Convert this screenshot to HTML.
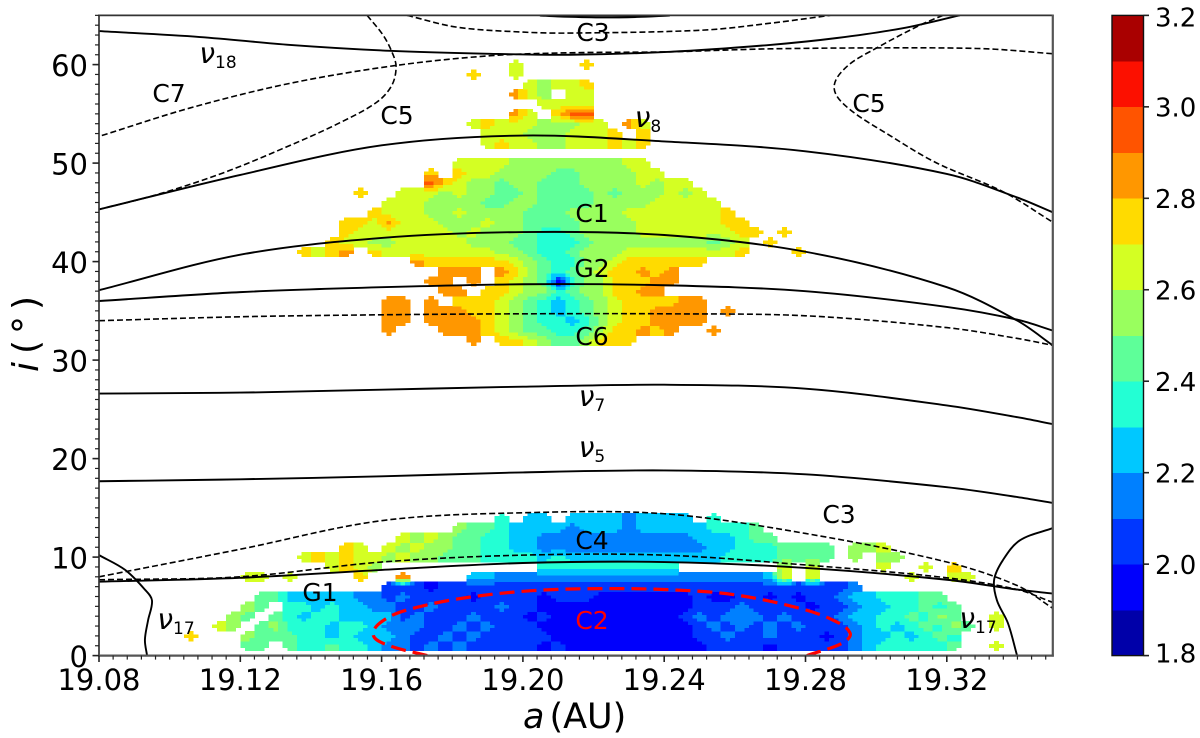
<!DOCTYPE html>
<html>
<head>
<meta charset="utf-8">
<title>Resonance map</title>
<style>
html,body{margin:0;padding:0;background:#fff;}
svg{display:block;font-family:"DejaVu Sans","Liberation Sans",sans-serif;}
.tick{font-size:29px;fill:#000;}
.lab{font-size:25px;fill:#000;text-anchor:middle;}
.nu{font-size:28px;fill:#000;font-style:italic;text-anchor:middle;}
.nu tspan{font-size:17px;font-style:normal;}
.cbt{font-size:26px;fill:#000;}
</style>
</head>
<body>
<svg id="chart" xmlns="http://www.w3.org/2000/svg" width="1200" height="738" viewBox="0 0 1200 738">
  <rect x="0" y="0" width="1200" height="738" fill="#fff"/>
  <defs><clipPath id="plotClip"><rect x="99" y="15.4" width="953.8" height="640.2"/></clipPath></defs>
  <g id="heat" clip-path="url(#plotClip)" shape-rendering="crispEdges"></g>
  <g id="curves" clip-path="url(#plotClip)"></g>
  <g id="axes"></g>
  <g id="labels">
    <text class="lab" x="593" y="41">C3</text>
    <text class="nu" x="218" y="63">ν<tspan dy="5">18</tspan></text>
    <text class="lab" x="169" y="102">C7</text>
    <text class="lab" x="397" y="124">C5</text>
    <text class="lab" x="869" y="112">C5</text>
    <text class="nu" x="648" y="127">ν<tspan dy="5">8</tspan></text>
    <text class="lab" x="592" y="222">C1</text>
    <text class="lab" x="592" y="277">G2</text>
    <text class="lab" x="592" y="345">C6</text>
    <text class="nu" x="592" y="406">ν<tspan dy="5">7</tspan></text>
    <text class="nu" x="592" y="457">ν<tspan dy="5">5</tspan></text>
    <text class="lab" x="839" y="523">C3</text>
    <text class="lab" x="592" y="549">C4</text>
    <text class="lab" x="320" y="601">G1</text>
    <text class="lab" x="592" y="629" style="fill:#f00">C2</text>
    <text class="nu" x="176" y="629">ν<tspan dy="5">17</tspan></text>
    <text class="nu" x="978" y="628">ν<tspan dy="5">17</tspan></text>
  </g>
  <text x="523" y="728" font-size="35"><tspan font-style="italic">a</tspan><tspan dx="5">(AU)</tspan></text>
  <text transform="translate(38,372) rotate(-90)" font-size="36"><tspan font-style="italic">i</tspan><tspan dx="8">(</tspan><tspan dx="6">°</tspan><tspan dx="6">)</tspan></text>
</svg>
<script>
// ---- data: heatmap bands (0 = no data) ----
const heatStartA = 19.10;
const heatStepA = 0.004;
const heatStartI = 0.5;
const heatStepI = 1;
const heatRows = [
/*r0*/[0,0,0,0,0, 2.4,2.4,0,2.4,2.3, 2.3,2.4,2.3,2.3,2.2, 2.1,2.1,2.0,2.1,2.0, 2.1,2.0,2.0,2.0,2.0, 2.0,1.9,2.0,1.9,1.9, 1.9,1.9,1.9,1.9,1.9, 1.9,1.9,1.9,2.0,2.0, 2.0,2.0,1.9,2.0,2.0, 2.0,2.0,2.0,2.1,2.2, 2.3,2.3,2.3,2.3,2.3, 2.4,0,0,2.6],
/*r1*/[0,2.7,0,0,0, 2.5,2.4,2.4,2.4,2.3, 2.3,2.2,2.3,2.2,2.2, 2.2,2.1,2.0,2.0,2.1, 2.0,2.1,2.0,2.0,2.0, 2.0,2.0,1.9,1.9,1.9, 1.9,1.9,1.9,1.9,1.9, 1.9,1.9,2.0,2.0,2.1, 2.0,2.0,2.1,2.0,2.0, 2.0,1.9,2.0,2.1,2.2, 2.2,2.3,2.2,2.3,2.4, 2.3,0,0,0],
/*r2*/[0,0,0,2.6,2.5, 0,2.4,2.5,2.3,2.3, 2.3,2.2,2.3,2.3,2.2, 2.1,2.1,2.1,2.0,2.0, 2.1,2.0,2.1,2.0,2.0, 2.0,1.9,1.9,1.9,1.9, 1.9,1.9,1.9,1.9,1.9, 1.9,1.9,2.0,2.1,2.0, 2.1,2.0,2.1,2.0,2.1, 2.0,2.0,2.0,2.1,2.2, 2.3,2.2,2.3,2.4,2.3, 2.5,2.4,0,2.6],
/*r3*/[0,0,0,0,2.5, 2.4,0,2.4,2.3,2.2, 2.3,2.3,2.2,2.2,2.2, 2.2,2.0,2.1,2.0,2.0, 2.0,2.1,2.0,2.0,2.0, 1.9,2.0,1.9,1.9,1.9, 1.9,1.9,1.9,1.9,1.9, 1.9,2.0,2.1,2.0,2.1, 2.1,2.1,2.0,2.1,2.0, 2.0,2.0,2.1,2.2,2.2, 2.3,2.3,2.4,2.3,2.5, 2.4,0,0,2.6],
/*r4*/[0,0,0,0,0, 2.5,2.4,0,2.3,2.3, 2.2,2.3,2.2,2.2,2.1, 2.1,2.0,2.0,2.1,2.0, 2.0,2.0,2.0,2.1,2.0, 2.0,1.9,1.9,1.9,1.9, 1.9,1.9,1.9,1.9,1.9, 1.9,1.9,2.0,2.0,2.0, 2.1,2.0,2.0,2.0,2.0, 1.9,2.0,2.0,2.1,2.2, 2.2,2.3,2.3,2.4,2.3, 2.4,0,0,0],
/*r5*/[0,0,0,0,0, 0,2.4,2.4,2.2,2.2, 2.2,2.2,2.2,2.1,2.1, 2.0,2.1,2.0,2.0,2.0, 2.0,1.9,2.0,2.0,2.0, 2.0,1.9,2.0,2.0,2.0, 1.9,1.9,1.9,1.9,1.9, 1.9,1.9,2.0,1.9,1.9, 2.0,2.0,1.9,2.0,1.9, 2.0,2.0,2.1,2.2,2.2, 2.3,2.3,2.3,2.4,2.4],
/*r6*/[0,0,0,0,0, 0,0,0,0,0, 0,0,0,0,0, 2.0,2.0,2.0,1.9,2.0, 2.0,2.0,2.0,2.0,2.0, 2.0,2.0,2.0,2.0,2.0, 2.0,2.0,2.0,2.0,2.0, 2.0,2.0,2.0,2.0,2.0, 2.0,2.0,2.0,2.0,2.0, 2.0,2.0,2.0,2.1,0],
/*r7*/[0,0,0,0,0, 2.6,2.6,0,2.6,0, 0,0,0,2.7,0, 0,2.8,0,0,0, 0,2.2,2.2,2.1,2.1, 2.1,2.1,2.1,2.1,2.1, 2.1,2.1,2.1,2.1,2.1, 2.1,2.1,2.1,2.1,2.1, 2.1,2.1,2.2,2.6,0, 2.6,0,0,0,0, 0,0,2.6,0,0, 2.6,2.6,0,0],
/*r8*/[0,0,0,0,0, 0,0,0,0,0, 0,2.6,2.7,2.6,2.5, 0,0,0,0,0, 0,0,0,0,0, 0,2.3,2.3,2.3,2.3, 2.3,2.3,2.3,2.3,2.3, 2.3,0,0,0,0, 0,0,0,2.6,0, 2.6,0,0,0,0, 2.6,0,0,2.6,0, 2.7,0,0,0],
/*r9*/[0,0,0,0,0, 0,0,0,0,2.6, 2.7,2.6,2.7,2.6,2.6, 2.5,2.6,2.5,2.5,2.4, 2.4,2.4,2.3,2.3,2.3, 2.3,2.2,2.3,2.2,2.2, 2.2,2.2,2.2,2.2,2.2, 2.2,2.2,2.2,2.2,2.3, 2.3,2.3,2.3,2.4,2.4, 2.4,2.4,0,2.5,0, 2.5,2.5],
/*r10*/[0,0,0,0,0, 0,0,0,0,0, 0,0,2.7,2.6,0, 2.6,2.5,2.6,2.5,2.5, 2.4,2.4,2.3,2.3,2.2, 2.2,2.1,2.1,2.1,2.1, 2.1,2.1,2.1,2.1,2.1, 2.1,2.1,2.1,2.2,2.2, 2.3,2.3,2.3,2.4,2.4, 2.4,2.4,0,2.5,2.5, 2.6],
/*r11*/[0,0,0,0,0, 0,0,0,0,0, 0,0,0,0,0, 0,2.6,2.5,2.6,2.5, 2.4,2.4,2.3,2.3,2.2, 2.2,2.1,2.1,2.1,2.1, 2.1,2.1,2.1,2.1,2.1, 2.1,2.1,2.2,2.2,2.2, 2.3,2.4,2.4],
/*r12*/[0,0,0,0,0, 0,0,0,0,0, 0,0,0,0,0, 0,0,0,0,0, 2.5,2.4,2.4,2.3,2.2, 2.2,2.2,2.2,2.1,2.2, 2.2,2.2,2.1,2.2,2.2, 2.2,2.2,2.2,2.3,2.3, 2.3,2.4],
/*r13*/[0,0,0,0,0, 0,0,0,0,0, 0,0,0,0,0, 0,0,0,0,0, 0,0,0,2.3,0, 2.2,2.2,0,2.2,2.2, 2.2,2.2,2.1,2.2,2.2, 2.2,2.2,0,2.3,0],
/*r14-r30*/[],[],[],[],[],[],[],[],[],[],[],[],[],[],[],[],[],
/*r31*/[0,0,0,0,0, 0,0,0,0,0, 0,0,0,0,0, 0,0,0,0,0, 0,2.8,0,2.7,2.7, 2.6,2.5,2.4,2.4,2.5, 2.7,2.7,2.7],
/*r32*/[0,0,0,0,0, 0,0,0,0,0, 0,0,0,0,0, 2.8,0,0,0,2.8, 2.8,2.8,2.7,2.6,2.5, 2.4,2.4,2.3,2.3,2.4, 2.5,2.7,2.7,2.8,2.7, 2.8,0,0,2.8],
/*r33*/[0,0,0,0,0, 0,0,0,0,0, 0,0,0,0,0, 2.8,2.8,0,2.8,2.8, 2.8,2.8,2.7,2.6,2.5, 2.4,2.3,2.3,2.2,2.3, 2.5,2.6,2.7,2.7,2.8, 2.8,2.8,2.8],
/*r34*/[0,0,0,0,0, 0,0,0,0,0, 0,0,0,0,0, 2.8,2.8,0,2.8,2.8, 2.8,2.7,2.7,2.6,2.5, 2.4,2.3,2.2,2.3,2.4, 2.5,2.6,2.7,2.7,2.8, 2.8,2.8,2.8,0,2.8],
/*r35*/[0,0,0,0,0, 0,0,0,0,0, 0,0,0,0,0, 2.8,2.8,0,2.8,0, 2.7,2.7,2.7,2.6,2.5, 2.4,2.3,2.2,2.3,2.4, 2.5,2.6,2.7,2.7,2.7, 2.7,2.8,2.8],
/*r36*/[0,0,0,0,0, 0,0,0,0,0, 0,0,0,0,0, 0,0,0,0,2.8, 2.8,0,2.7,2.7,2.6, 2.5,2.5,2.3,2.4,2.5, 2.5,2.7,2.7,2.8,2.8],
/*r37*/[0,0,0,0,0, 0,0,0,0,0, 0,0,0,0,0, 0,0,0,2.8,2.8, 0,2.8,0,2.7,2.6, 2.5,2.4,1.9,2.3,2.5, 2.5,2.7,2.7,2.7,2.8, 2.8],
/*r38*/[0,0,0,0,0, 0,0,0,0,0, 0,0,0,0,0, 0,0,0,0,2.8, 2.8,2.8,0,2.8,2.7, 2.5,2.4,2.3,2.4,2.5, 2.6,2.7,2.7,2.8,2.7, 2.8],
/*r39*/[0,0,0,0,0, 0,0,0,0,0, 0,0,0,0,0, 0,0,2.8,2.7,2.7, 2.7,2.7,2.7,2.7,2.6, 2.5,2.4,2.3,2.3,2.5, 2.5,2.6,2.7,2.7,2.7, 2.7,2.7,2.7],
/*r40*/[0,0,0,0,0, 0,0,0,0,2.7, 2.6,2.7,2.8,0,2.7, 2.6,2.6,2.6,2.6,2.6, 2.6,2.6,2.6,2.5,2.5, 2.4,2.3,2.3,2.4,2.5, 2.5,2.5,2.6,2.6,2.6, 2.6,2.6,2.6,2.6,2.6, 2.7,0,0,0,2.7],
/*r41*/[0,0,0,0,0, 0,0,0,0,0, 0,2.7,2.6,2.6,2.5, 2.5,2.6,2.6,2.6,2.6, 2.6,2.5,2.5,2.5,2.4, 2.4,2.3,2.3,2.3,2.4, 2.5,2.5,2.5,2.5,2.5, 2.5,2.5,2.5,2.4,2.5, 2.6,0,2.7],
/*r42*/[0,0,0,0,0, 0,0,0,0,0, 0,0,2.7,2.6,2.6, 2.6,2.6,2.6,2.6,2.6, 2.5,2.6,2.5,2.5,2.5, 2.4,2.3,2.3,2.4,2.5, 2.5,2.5,2.5,2.6,2.6, 2.6,2.6,2.6,2.6,2.6, 2.7,2.7,0,2.7],
/*r43*/[0,0,0,0,0, 0,0,0,0,0, 0,0,2.7,2.7,2.6, 2.8,2.6,2.6,2.6,2.5, 2.5,2.5,2.6,2.5,2.5, 2.4,2.4,2.4,2.4,2.5, 2.5,2.5,2.5,2.6,2.6, 2.6,2.6,2.6,2.6,2.7, 2.7],
/*r44*/[0,0,0,0,0, 0,0,0,0,0, 0,0,0,0,2.7, 2.6,2.6,2.6,2.5,2.5, 2.6,2.5,2.5,2.5,2.5, 2.4,2.4,2.4,2.5,2.5, 2.5,2.5,2.6,2.6,2.6, 2.6,2.6,2.6,2.6,2.7],
/*r45*/[0,0,0,0,0, 0,0,0,0,0, 0,0,0,0,0, 2.6,2.6,2.6,2.5,2.5, 2.5,2.5,2.4,2.4,2.5, 2.5,2.4,2.4,2.4,2.4, 2.5,2.5,2.5,2.5,2.6, 2.6,2.6,2.6,2.6],
/*r46*/[0,0,0,0,0, 0,0,0,0,0, 0,0,0,2.7,0, 0,2.6,2.6,2.6,2.5, 2.6,2.5,2.5,2.4,2.4, 2.5,2.4,2.4,2.4,2.4, 2.5,2.4,2.5,2.5,2.5, 2.6,2.5,2.6],
/*r47*/[0,0,0,0,0, 0,0,0,0,0, 0,0,0,0,0, 0,0,0,2.9,2.7, 2.6,2.5,2.5,2.4,2.5, 2.5,2.4,2.4,2.4,2.5, 2.5,2.5,2.5,2.6,2.5, 2.6,2.6],
/*r48*/[0,0,0,0,0, 0,0,0,0,0, 0,0,0,0,0, 0,0,0,2.7,0, 2.7,2.6,2.6,2.5,2.5, 2.5,2.5,2.4,2.4,2.5, 2.5,2.5,2.5,2.6,2.6],
/*r49*/[0,0,0,0,0, 0,0,0,0,0, 0,0,0,0,0, 0,0,0,0,0, 2.6,2.6,2.6,2.6,2.5, 2.5,2.5,2.5,2.5,2.5, 2.5,2.5,2.6,2.6],
/*r50*/[],
/*r51*/[0,0,0,0,0, 0,0,0,0,0, 0,0,0,0,0, 0,0,0,0,0, 0,0,2.6,2.7,2.6, 2.6,2.5,2.5,2.6,2.6, 2.6,2.7,2.6,2.7],
/*r52*/[0,0,0,0,0, 0,0,0,0,0, 0,0,0,0,0, 0,0,0,0,0, 0,0,2.6,2.6,2.6, 2.5,2.5,2.5,2.6,2.6, 2.6,2.7,0,2.7],
/*r53*/[0,0,0,0,0, 0,0,0,0,0, 0,0,0,0,0, 0,0,0,0,0, 0,2.6,2.7,2.6,2.6, 2.6,2.5,2.5,2.5,2.6, 2.6,0,2.8,2.6],
/*r54*/[0,0,0,0,0, 0,0,0,0,0, 0,0,0,0,0, 0,0,0,0,0, 0,0,0,0,2.8, 2.6,0,2.7,2.9,2.9],
/*r55*/[0,0,0,0,0, 0,0,0,0,0, 0,0,0,0,0, 0,0,0,0,0, 0,0,0,0,0, 0,2.6,2.6,2.6,2.6],
/*r56*/[0,0,0,0,0, 0,0,0,0,0, 0,0,0,0,0, 0,0,0,0,0, 0,0,0,0,2.8, 2.6,2.5,0,2.6,2.6],
/*r57*/[0,0,0,0,0, 0,0,0,0,0, 0,0,0,0,0, 0,0,0,0,0, 0,0,0,0,0, 2.6,2.5,2.6,2.6,2.7],
/*r58*/[0,0,0,0,0, 0,0,0,0,0, 0,0,0,0,0, 0,0,0,0,0, 0,2.7,0,0,2.6],
/*r59*/[0,0,0,0,0, 0,0,0,0,0, 0,0,0,0,0, 0,0,0,0,0, 0,0,0,0,2.6, 0,0,0,0,2.7]
];

// ---- data: resonance curves (a in AU, i in degrees) ----
const longGridA = [19.08,19.12,19.16,19.20,19.24,19.28,19.32,19.34,19.35];
const nu7I = [26.6,26.7,27.0,27.3,27.5,27.1,25.4,24.2,23.5];
const nu5I = [17.7,17.9,18.2,18.6,18.8,18.4,17.1,16.1,15.5];
const upperG2I = [37.1,40.7,42.4,43.0,42.7,41.0,37.4,34.0,31.5];
const g2I = [36.0,36.9,37.4,37.7,37.6,37.0,35.4,34.1,33.0];
const c6I = [34.0,34.4,34.6,34.7,34.7,34.5,33.3,32.2,31.5];
const c1I = [45.3,48.8,51.8,52.8,52.2,51.2,48.9,46.5,45.0];
const c3LowI = [8.0,10.8,13.7,14.5,14.4,12.4,9.5,7.1,4.8];
const c4I = [7.7,8.0,9.5,10.2,10.2,9.2,7.9,6.7,5.4];
const g1I = [7.5,7.9,8.7,9.4,9.5,8.9,7.7,6.7,6.3];
const nu18A = [19.08,19.1086,19.1341,19.1624,19.1907,19.2133,19.2416,19.27,19.2889,19.3076,19.3237];
const nu18I = [63.4,62.8,62.0,61.4,61.1,61.0,61.3,62.0,62.7,63.7,65.0];
const c7A = [19.0808,19.1058,19.1341,19.1638,19.1907,19.2133,19.2416,19.27,19.3076,19.3314,19.35];
const c7I = [52.8,55.6,58.1,59.9,60.9,61.2,61.3,61.6,61.7,61.6,61.1];
const c5LeftA = [19.1559,19.1604,19.1629,19.1641,19.1629,19.1587,19.1482,19.1341,19.1151,19.0964,19.08];
const c5LeftI = [65.0,63.0,61.3,59.8,57.9,56.2,54.1,51.8,49.0,46.8,45.3];
const c5RightA = [19.3189,19.3124,19.3002,19.2917,19.2881,19.2917,19.3039,19.3172,19.3359,19.35];
const c5RightI = [65.0,64.0,61.7,59.8,57.7,55.7,52.8,50.0,47.1,44.0];
const c3TopA = [19.1672,19.1813,19.2,19.2133,19.251,19.27,19.287];
const c3TopI = [65.0,63.8,63.3,63.2,63.5,64.2,65.0];
const topArcA = [19.2048,19.2097,19.2218,19.2323,19.2416];
const topArcI = [65.0,64.9,64.8,64.85,65.0];
const nu17LeftA = [19.08,19.0874,19.093,19.095,19.0939,19.093,19.0936];
const nu17LeftI = [10.2,8.7,6.7,5.6,3.6,1.6,0];
const nu17RightA = [19.35,19.3407,19.3359,19.3334,19.3342,19.3373,19.3399];
const nu17RightI = [12.95,11.7,9.7,7.7,5.6,3.3,0];
const c2A = [19.1729,19.1615,19.1576,19.1615,19.17,19.1842,19.2029,19.2218,19.2408,19.2595,19.2784,19.2878,19.2926,19.2906,19.2804];
const c2I = [0,1.1,2.2,3.8,4.9,5.9,6.6,6.8,6.7,6.2,4.8,3.6,2.3,1.3,0];

// ---- data: axis ticks ----
const xTickLabels = ["19.08","19.12","19.16","19.20","19.24","19.28","19.32"];
const yTickLabels = ["0","10","20","30","40","50","60"];
const cbTickLabels = ["1.8","2.0","2.2","2.4","2.6","2.8","3.0","3.2"];

// ---- axis functions ----
const NS = "http://www.w3.org/2000/svg";
const X = a => 99 + (a - 19.08) * 3532.5;
const Y = i => 655.6 - i * 9.85;
const CBY = v => 655.6 - (v - 1.8) * 457.3;

function lerp(stops, t){
  for (let k = 1; k < stops.length; k++){
    if (t <= stops[k][0]){
      const s = stops[k-1], e = stops[k];
      return s[1] + (e[1]-s[1]) * (t-s[0]) / (e[0]-s[0]);
    }
  }
  return stops[stops.length-1][1];
}
function jet(t){
  const r = lerp([[0,0],[.35,0],[.66,1],[.89,1],[1,.5]], t);
  const g = lerp([[0,0],[.125,0],[.375,1],[.64,1],[.91,0],[1,0]], t);
  const b = lerp([[0,.5],[.11,1],[.34,1],[.65,0],[1,0]], t);
  return "rgb(" + Math.round(r*255) + "," + Math.round(g*255) + "," + Math.round(b*255) + ")";
}
const bandColor = k => jet((k + .5) / 14);
const make = (tag, attrs) => {
  const el = document.createElementNS(NS, tag);
  for (const key in attrs) el.setAttribute(key, attrs[key]);
  return el;
};

// ---- heatmap: each cell is split into 3x3 bilinear sub-cells, outer corners chamfered ----
const heatG = document.getElementById("heat");
const cellAt = (r, c) => (heatRows[r] && heatRows[r][c]) || 0;
const SUB = 3;
heatRows.forEach((row, r) => {
  row.forEach((val, c) => {
    if (!val) return;
    for (let qx = 0; qx < SUB; qx++){
      for (let qy = 0; qy < SUB; qy++){
        const fx = (qx - 1) / SUB, fy = (qy - 1) / SUB;
        const dc = fx > 0 ? 1 : -1, dr = fy > 0 ? 1 : -1;
        const wx = Math.abs(fx), wy = Math.abs(fy);
        const hN = cellAt(r, c + dc), vN = cellAt(r + dr, c), dN = cellAt(r + dr, c + dc);
        if (wx > 0 && wy > 0 && !hN && !vN) continue;
        const samples = [[val,(1-wx)*(1-wy)],[hN,wx*(1-wy)],[vN,(1-wx)*wy],[dN,wx*wy]];
        let sum = 0, wt = 0;
        samples.forEach(s => { if (s[0]) { sum += s[0]*s[1]; wt += s[1]; } });
        const v = sum / wt;
        const band = Math.max(0, Math.min(13, Math.round((v - 1.8) / 0.1)));
        const a0 = heatStartA + (c + qx/SUB) * heatStepA;
        const a1 = a0 + heatStepA/SUB;
        const i0 = heatStartI + (r + qy/SUB) * heatStepI;
        const i1 = i0 + heatStepI/SUB;
        const rect = make("rect", {x:X(a0), y:Y(i1), width:X(a1)-X(a0)+.5, height:Y(i0)-Y(i1)+.5, fill:bandColor(band)});
        
        
        heatG.appendChild(rect);
      }
    }
  });
});

// ---- curves ----
const curvesG = document.getElementById("curves");
function splinePath(aArr, iArr){
  const p = aArr.map((a, k) => [X(a), Y(iArr[k])]);
  const dirAt = k => {
    const a = p[Math.max(0,k-1)], b = p[Math.min(p.length-1,k+1)];
    const dx = b[0]-a[0], dy = b[1]-a[1], len = Math.hypot(dx,dy) || 1;
    return [dx/len, dy/len];
  };
  let d = "M" + p[0][0] + " " + p[0][1];
  for (let k = 0; k < p.length - 1; k++){
    const p1 = p[k], p2 = p[k+1];
    const seg = Math.hypot(p2[0]-p1[0], p2[1]-p1[1]);
    const t1 = dirAt(k), t2 = dirAt(k+1);
    const c1x = p1[0] + t1[0]*seg/3, c1y = p1[1] + t1[1]*seg/3;
    const c2x = p2[0] - t2[0]*seg/3, c2y = p2[1] - t2[1]*seg/3;
    d += "C" + c1x + " " + c1y + " " + c2x + " " + c2y + " " + p2[0] + " " + p2[1];
  }
  return d;
}
function drawCurve(aArr, iArr, curveName, style){
  const path = make("path", {d:splinePath(aArr, iArr), fill:"none", stroke:style.color, "stroke-width":style.width});
  if (style.dash) path.setAttribute("stroke-dasharray", style.dash);
  
  
  curvesG.appendChild(path);
}
const solid = {color:"#000", width:1.9};
const dashed = {color:"#000", width:1.6, dash:"6 3"};
const redDash = {color:"#f00", width:3.2, dash:"15 7"};
drawCurve(longGridA, nu7I, "nu7-curve", solid);
drawCurve(longGridA, nu5I, "nu5-curve", solid);
drawCurve(longGridA, upperG2I, "c1-lower-curve", solid);
drawCurve(longGridA, g2I, "g2-curve", solid);
drawCurve(longGridA, c6I, "c6-curve", dashed);
drawCurve(longGridA, c1I, "c1-upper-curve", solid);
drawCurve(longGridA, c3LowI, "c3-low-curve", dashed);
drawCurve(longGridA, c4I, "c4-curve", dashed);
drawCurve(longGridA, g1I, "g1-curve", solid);
drawCurve(nu18A, nu18I, "nu18-curve", solid);
drawCurve(c7A, c7I, "c7-curve", dashed);
drawCurve(c5LeftA, c5LeftI, "c5-left-curve", dashed);
drawCurve(c5RightA, c5RightI, "c5-right-curve", dashed);
drawCurve(c3TopA, c3TopI, "c3-top-curve", dashed);
drawCurve(topArcA, topArcI, "top-arc-curve", {color:"#000", width:2.2});
drawCurve(nu17LeftA, nu17LeftI, "nu17-left-curve", solid);
drawCurve(nu17RightA, nu17RightI, "nu17-right-curve", solid);
drawCurve(c2A, c2I, "c2-curve", redDash);

// ---- axes ----
const axesG = document.getElementById("axes");
function addLine(x1, y1, x2, y2, w, col, lineName){
  const ln = make("line", {x1:x1, y1:y1, x2:x2, y2:y2, stroke:col, "stroke-width":w});
  
  
  axesG.appendChild(ln);
}
function addText(str, x, y, cls, anchor, textName){
  const t = make("text", {x:x, y:y, class:cls, "text-anchor":anchor});
  t.textContent = str;
  
  
  axesG.appendChild(t);
}
addLine(99, 14.6, 99, 656.5, 1.7, "#333", "left-spine");
addLine(98.2, 15.4, 1053.6, 15.4, 1.7, "#333", "top-spine");
addLine(1052.8, 14.6, 1052.8, 656.6, 2.2, "#555", "right-spine");
addLine(98.2, 655.6, 1053.8, 655.6, 2.2, "#555", "bottom-spine");

for (let k = 0; k <= 67; k++){
  const a = 19.08 + k * 0.004;
  if (k % 10) addLine(X(a), 655.6, X(a), 659.6, 1.2, "#222", "x-minor-tick");
}
xTickLabels.forEach(lbl => {
  const a = parseFloat(lbl);
  addLine(X(a), 655.6, X(a), 662, 1.6, "#222", "x-major-tick");
  addText(lbl, X(a), 690, "tick", "middle", "x-tick-label");
});
for (let k = 0; k <= 65; k++){
  if (k % 10) addLine(95, Y(k), 99, Y(k), 1.2, "#222", "y-minor-tick");
}
yTickLabels.forEach(lbl => {
  const v = parseFloat(lbl);
  addLine(92.5, Y(v), 99, Y(v), 1.6, "#222", "y-major-tick");
  addText(lbl, 88, Y(v) + 11.5, "tick", "end", "y-tick-label");
});

// ---- colourbar ----
for (let k = 0; k < 14; k++){
  const v0 = 1.8 + k * 0.1;
  const band = make("rect", {x:1112, y:CBY(v0+0.1), width:31.5, height:CBY(v0)-CBY(v0+0.1)+.4, fill:bandColor(k), "shape-rendering":"crispEdges"});
  
  
  axesG.appendChild(band);
}
const cbFrame = make("rect", {x:1112, y:15.4, width:31.5, height:640.2, fill:"none", stroke:"#111", "stroke-width":1.4});


axesG.appendChild(cbFrame);
cbTickLabels.forEach(lbl => {
  const v = parseFloat(lbl);
  const yy = CBY(v);
  addLine(1143.5, yy, 1149, yy, 1.6, "#222", "colorbar-tick");
  const centre = Math.max(17, Math.min(653, yy));
  addText(lbl, 1155, centre + 9.7, "cbt", "start", "colorbar-tick-label");
});
</script>
</body>
</html>
